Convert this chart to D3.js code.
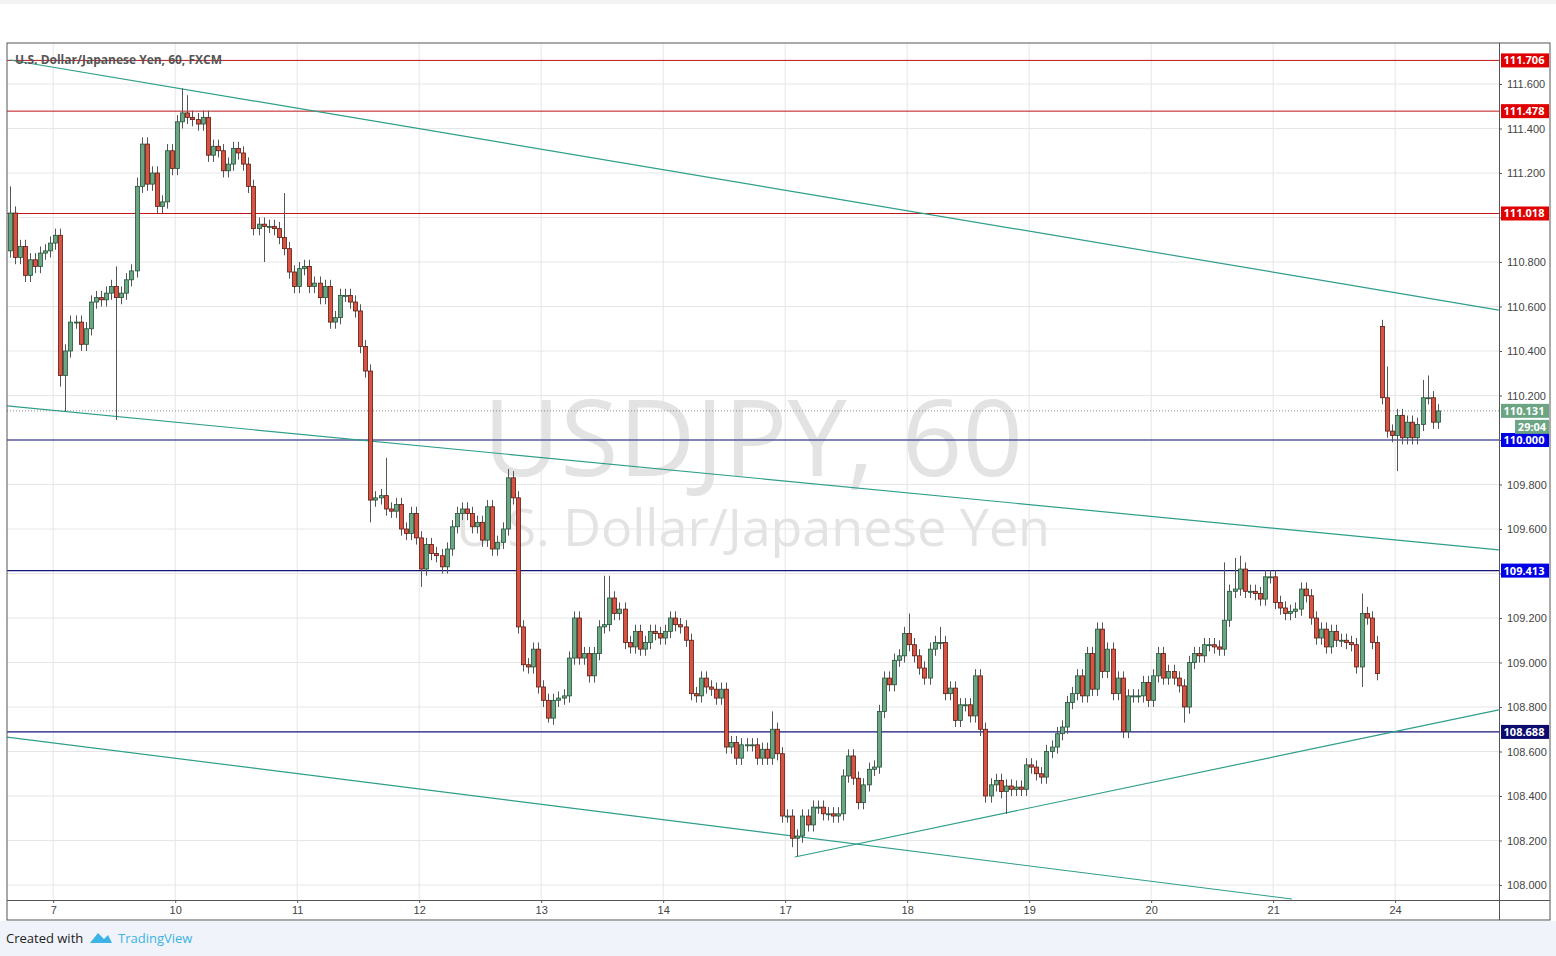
<!DOCTYPE html>
<html><head><meta charset="utf-8">
<script src="https://cdn.jsdelivr.net/npm/d3@7/dist/d3.min.js"></script>
<style>body{margin:0;background:#fff}svg{display:block;font-family:"Open Sans",Arial,sans-serif}</style>
</head><body><svg id="c" width="1556" height="956"></svg>
<script>
const closes = [
111.02,110.82,110.87,110.74,110.81,110.78,110.84,110.85,110.885,110.92,
110.29,110.40,110.53,110.53,110.43,110.50,110.62,110.64,110.63,110.66,110.69,110.64,110.66,
110.72,110.76,111.14,111.33,111.15,111.20,111.05,111.07,111.30,111.22,111.43,111.47,111.45,111.44,111.42,111.45,
111.28,111.32,111.30,111.21,111.24,111.31,111.29,111.24,111.14,110.95,
110.97,110.96,110.96,110.95,110.91,110.86,110.755,110.69,110.77,110.78,110.69,110.705,110.64,110.69,
110.53,110.55,110.65,110.65,110.62,110.58,110.42,110.31,
109.73,109.74,109.75,109.69,109.68,109.71,109.60,109.58,109.67,109.56,109.42,109.53,109.49,109.48,109.43,
109.51,109.61,109.67,109.69,109.67,109.61,109.63,109.55,109.70,109.51,109.54,109.60,109.83,109.74,109.16,108.99,108.98,109.06,
108.89,108.83,108.75,108.83,108.84,108.85,109.02,109.20,109.02,109.04,108.94,109.04,109.16,
109.17,109.29,109.22,109.24,109.09,109.07,109.14,109.06,109.09,109.14,109.13,109.11,109.14,
109.20,109.17,109.16,109.10,108.86,108.85,108.93,108.89,108.88,108.84,108.88,
108.62,108.64,108.57,108.63,108.63,108.63,108.57,108.61,108.57,108.70,108.59,108.31,108.31,108.21,
108.22,108.31,108.27,108.35,108.35,108.32,108.32,108.31,108.32,108.49,108.58,108.48,108.37,108.45,108.52,108.53,
108.78,108.93,108.90,109.01,109.03,109.13,109.08,109.03,108.975,108.93,
109.06,109.09,109.09,108.86,108.885,108.74,108.81,108.81,108.76,108.94,108.70,
108.40,108.45,108.47,108.42,108.445,108.43,108.44,108.43,108.54,108.53,108.50,108.485,108.60,108.62,108.68,108.71,
108.82,108.86,108.94,108.85,109.04,108.88,109.15,108.96,109.06,108.86,108.93,108.69,108.85,108.85,108.85,
108.91,108.83,108.94,109.04,108.93,108.96,108.93,108.895,108.80,109.00,109.04,
109.03,109.08,109.08,109.07,109.06,109.19,109.32,109.33,109.42,109.32,109.32,109.31,109.285,
109.385,109.385,109.27,109.245,109.22,109.23,109.24,109.33,
109.30,109.20,109.11,109.15,109.07,109.14,109.10,109.10,109.09,109.08,108.98,109.22,109.20,109.09,108.95,
110.19,110.04,110.02,110.11,110.01,110.08,110.01,110.07,110.19,110.19,110.08,110.131];
const gapOpens = {0:110.85, 270:110.51};
const wickHighs = {0:111.14,21:110.78,25:111.18,34:111.58,35:111.55,54:111.11,74:109.92,98:109.87,117:109.39,118:109.39,150:108.78,177:109.22,183:109.16,239:109.45,241:109.47,242:109.48,266:109.31,271:110.33,278:110.27,279:110.29};
const wickLows = {10:110.24,11:110.13,21:110.09,50:110.80,71:109.63,81:109.34,106:108.73,154:108.17,155:108.13,196:108.32,231:108.73,266:108.89,273:109.86};
const dayLabels = ["7","10","11","12","13","14","17","18","19","20","21","24"];
const priceTicks = [108.0,108.2,108.4,108.6,108.8,109.0,109.2,109.4,109.6,109.8,110.0,110.2,110.4,110.6,110.8,111.0,111.2,111.4,111.6];
const redLevels = [111.706,111.478,111.018];
const blueLevels = [110.000,109.413,108.688];
const trendLines = [[0.1,111.708,293,110.584],[-0.5,110.153,293,109.506],[-0.5,108.665,252.3,107.937],[154.5,108.126,293,108.787]];
const lastPrice = 110.131, timer = "29:04";

const svg = d3.select("#c");
const L=7,T=43,R=1499,B=900;
const x = d3.scaleLinear().domain([0,100]).range([9.5,517.8]);
const y = d3.scaleLinear().domain([108,111.6]).range([885,84]);
svg.append("rect").attr("x",0).attr("y",0).attr("width",1556).attr("height",4).attr("fill","#f2f2f2");
svg.append("defs").append("clipPath").attr("id","cp").append("rect").attr("x",L).attr("y",T).attr("width",R-L).attr("height",B-T);
const g = svg.append("g");
dayLabels.forEach((d,k)=>{const xi=x(8.6+24*k);g.append("line").attr("x1",xi).attr("x2",xi).attr("y1",T).attr("y2",B).attr("stroke","#e6e6e6");});
priceTicks.forEach(p=>g.append("line").attr("x1",L).attr("x2",R).attr("y1",y(p)).attr("y2",y(p)).attr("stroke","#e6e6e6"));
g.append("text").attr("x",753).attr("y",476).attr("text-anchor","middle").attr("font-size",106).attr("fill","#e3e3e3").text("USDJPY, 60");
g.append("text").attr("x",753).attr("y",546).attr("text-anchor","middle").attr("font-size",52).attr("fill","#e3e3e3").text("U.S. Dollar/Japanese Yen");
const pg = g.append("g").attr("clip-path","url(#cp)");
redLevels.forEach(p=>pg.append("line").attr("x1",L).attr("x2",R).attr("y1",y(p)).attr("y2",y(p)).attr("stroke","#c0151a").attr("stroke-width",1));
blueLevels.forEach(p=>pg.append("line").attr("x1",L).attr("x2",R).attr("y1",y(p)).attr("y2",y(p)).attr("stroke","#141478").attr("stroke-width",1.2));
pg.append("line").attr("x1",L).attr("x2",R).attr("y1",y(lastPrice)).attr("y2",y(lastPrice)).attr("stroke","#888").attr("stroke-dasharray","1,2");
trendLines.forEach(t=>pg.append("line").attr("x1",x(t[0])).attr("y1",y(t[1])).attr("x2",x(t[2])).attr("y2",y(t[3])).attr("stroke","#2e9e8a").attr("stroke-width",1.2));
const data = closes.map((c,i)=>{const o = gapOpens[i]!==undefined?gapOpens[i]:closes[i-1];
 const hi = wickHighs[i]!==undefined?wickHighs[i]:Math.max(o,c)+0.03;
 const lo = wickLows[i]!==undefined?wickLows[i]:Math.min(o,c)-0.03;return {i,o,c,hi,lo};});
const cg = pg.selectAll("g.cd").data(data).join("g");
cg.append("line").attr("x1",d=>Math.round(x(d.i))+0.5).attr("x2",d=>Math.round(x(d.i))+0.5).attr("y1",d=>y(d.hi)).attr("y2",d=>y(d.lo)).attr("stroke","#555");
cg.append("rect").attr("x",d=>Math.round(x(d.i))-1.5).attr("width",4)
 .attr("y",d=>y(Math.max(d.o,d.c))).attr("height",d=>Math.max(1,y(Math.min(d.o,d.c))-y(Math.max(d.o,d.c))))
 .attr("fill",d=>d.c>=d.o?"#6ba583":"#d75442").attr("stroke",d=>d.c>=d.o?"#225437":"#5b1a13").attr("stroke-width",0.8);
svg.append("rect").attr("x",L).attr("y",T).attr("width",1550-L).attr("height",920-T).attr("fill","none").attr("stroke","#555");
svg.append("line").attr("x1",R+0.5).attr("x2",R+0.5).attr("y1",T).attr("y2",920).attr("stroke","#555");
svg.append("line").attr("x1",L).attr("x2",1550).attr("y1",B+0.5).attr("y2",B+0.5).attr("stroke","#555");
const tagPrices = redLevels.concat(blueLevels,[lastPrice]);
const tagYs = tagPrices.map(p=>y(p)).concat([y(lastPrice)+16]);
const ya = svg.append("g").attr("transform",`translate(${R},0)`).call(d3.axisRight(y).tickValues(priceTicks).tickSize(3).tickFormat(d3.format(".3f")));
ya.select(".domain").remove();ya.selectAll("text").attr("font-size",11).attr("fill","#444").attr("x",8)
 .style("display",d=>tagYs.some(t=>Math.abs(t-y(d))<15)?"none":null);
ya.selectAll("line").attr("stroke","#555");
const xa = svg.append("g").attr("transform",`translate(0,${B})`).call(d3.axisBottom(x).tickValues(dayLabels.map((d,k)=>8.6+24*k)).tickSize(3).tickFormat((d,k)=>dayLabels[k]));
xa.select(".domain").remove();xa.selectAll("text").attr("font-size",11).attr("fill","#444");xa.selectAll("line").attr("stroke","#555");
function tag(p,bg,txt,fg){const yy=y(p);svg.append("rect").attr("x",R+2).attr("y",yy-7).attr("width",48).attr("height",14).attr("fill",bg);
 svg.append("text").attr("x",R+25).attr("y",yy+4).attr("text-anchor","middle").attr("font-size",11).attr("font-weight","bold").attr("fill",fg).text(txt);}
redLevels.forEach(p=>tag(p,"#e00000",p.toFixed(3),"#fff"));
tag(blueLevels[0],"#0000e6","110.000","#fff");tag(blueLevels[1],"#0000e6","109.413","#fff");tag(blueLevels[2],"#0c0c6e","108.688","#fff");
tag(lastPrice,"#6ba583","110.131","#fff");
svg.append("rect").attr("x",R+16).attr("y",y(lastPrice)+9).attr("width",34).attr("height",14).attr("fill","#6ba583");
svg.append("text").attr("x",R+33).attr("y",y(lastPrice)+20).attr("text-anchor","middle").attr("font-size",11).attr("font-weight","bold").attr("fill","#fff").text(timer);
svg.append("text").attr("x",15).attr("y",64).attr("font-size",12).attr("font-weight","bold").attr("fill","#555").text("U.S. Dollar/Japanese Yen, 60, FXCM");
svg.append("rect").attr("x",0).attr("y",921).attr("width",1556).attr("height",35).attr("fill","#f0f3fa");
svg.append("text").attr("x",6).attr("y",943).attr("font-size",13).attr("fill","#222").text("Created with");
svg.append("path").attr("d","M90,943 L98,933 L104,939 L108,935 L112,943 Z").attr("fill","#3bb3e4");
svg.append("text").attr("x",118).attr("y",943).attr("font-size",13).attr("fill","#3bb3e4").text("TradingView");
</script></body></html>
